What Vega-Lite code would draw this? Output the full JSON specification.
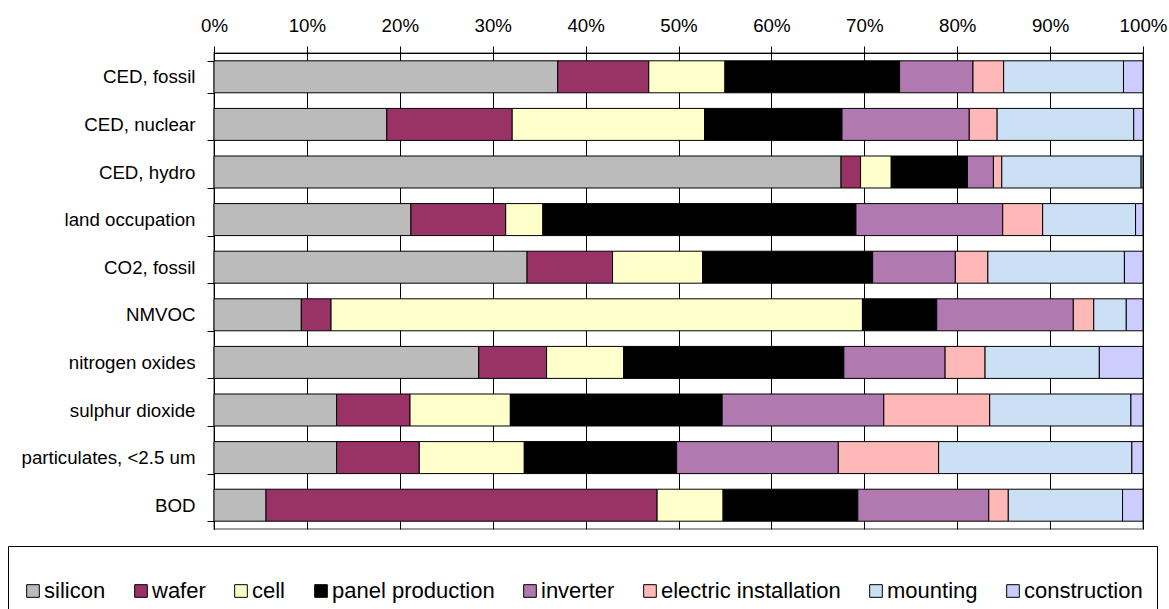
{
  "$schema": "https://vega.github.io/schema/vega-lite/v6.json",
  "width": 929,
  "height": 476,
  "autosize": {"type": "none"},
  "padding": {"left": 214, "top": 53, "right": 26, "bottom": 80},
  "background": "white",
  "config": {
    "font": "Liberation Sans",
    "view": {"stroke": "#808080", "strokeWidth": 1.5},
    "axis": {"labelFont": "Liberation Sans", "labelColor": "black", "domainColor": "black", "tickColor": "black", "labelFontSize": 18.7, "title": null}
  },
  "data": {
    "values": [
      {"cat": "CED, fossil", "part": "silicon", "v": 37.0},
      {"cat": "CED, fossil", "part": "wafer", "v": 9.8},
      {"cat": "CED, fossil", "part": "cell", "v": 8.2},
      {"cat": "CED, fossil", "part": "panel production", "v": 18.8},
      {"cat": "CED, fossil", "part": "inverter", "v": 7.9},
      {"cat": "CED, fossil", "part": "electric installation", "v": 3.3},
      {"cat": "CED, fossil", "part": "mounting", "v": 12.9},
      {"cat": "CED, fossil", "part": "construction", "v": 2.1},
      {"cat": "CED, nuclear", "part": "silicon", "v": 18.6},
      {"cat": "CED, nuclear", "part": "wafer", "v": 13.5},
      {"cat": "CED, nuclear", "part": "cell", "v": 20.7},
      {"cat": "CED, nuclear", "part": "panel production", "v": 14.8},
      {"cat": "CED, nuclear", "part": "inverter", "v": 13.7},
      {"cat": "CED, nuclear", "part": "electric installation", "v": 3.0},
      {"cat": "CED, nuclear", "part": "mounting", "v": 14.7},
      {"cat": "CED, nuclear", "part": "construction", "v": 1.0},
      {"cat": "CED, hydro", "part": "silicon", "v": 67.5},
      {"cat": "CED, hydro", "part": "wafer", "v": 2.1},
      {"cat": "CED, hydro", "part": "cell", "v": 3.3},
      {"cat": "CED, hydro", "part": "panel production", "v": 8.2},
      {"cat": "CED, hydro", "part": "inverter", "v": 2.8},
      {"cat": "CED, hydro", "part": "electric installation", "v": 0.9},
      {"cat": "CED, hydro", "part": "mounting", "v": 15.0},
      {"cat": "CED, hydro", "part": "construction", "v": 0.2},
      {"cat": "land occupation", "part": "silicon", "v": 21.2},
      {"cat": "land occupation", "part": "wafer", "v": 10.2},
      {"cat": "land occupation", "part": "cell", "v": 4.0},
      {"cat": "land occupation", "part": "panel production", "v": 33.7},
      {"cat": "land occupation", "part": "inverter", "v": 15.8},
      {"cat": "land occupation", "part": "electric installation", "v": 4.3},
      {"cat": "land occupation", "part": "mounting", "v": 10.0},
      {"cat": "land occupation", "part": "construction", "v": 0.8},
      {"cat": "CO2, fossil", "part": "silicon", "v": 33.7},
      {"cat": "CO2, fossil", "part": "wafer", "v": 9.2},
      {"cat": "CO2, fossil", "part": "cell", "v": 9.7},
      {"cat": "CO2, fossil", "part": "panel production", "v": 18.3},
      {"cat": "CO2, fossil", "part": "inverter", "v": 8.9},
      {"cat": "CO2, fossil", "part": "electric installation", "v": 3.5},
      {"cat": "CO2, fossil", "part": "mounting", "v": 14.7},
      {"cat": "CO2, fossil", "part": "construction", "v": 2.0},
      {"cat": "NMVOC", "part": "silicon", "v": 9.4},
      {"cat": "NMVOC", "part": "wafer", "v": 3.2},
      {"cat": "NMVOC", "part": "cell", "v": 57.2},
      {"cat": "NMVOC", "part": "panel production", "v": 8.0},
      {"cat": "NMVOC", "part": "inverter", "v": 14.7},
      {"cat": "NMVOC", "part": "electric installation", "v": 2.2},
      {"cat": "NMVOC", "part": "mounting", "v": 3.5},
      {"cat": "NMVOC", "part": "construction", "v": 1.8},
      {"cat": "nitrogen oxides", "part": "silicon", "v": 28.5},
      {"cat": "nitrogen oxides", "part": "wafer", "v": 7.3},
      {"cat": "nitrogen oxides", "part": "cell", "v": 8.3},
      {"cat": "nitrogen oxides", "part": "panel production", "v": 23.7},
      {"cat": "nitrogen oxides", "part": "inverter", "v": 10.9},
      {"cat": "nitrogen oxides", "part": "electric installation", "v": 4.3},
      {"cat": "nitrogen oxides", "part": "mounting", "v": 12.3},
      {"cat": "nitrogen oxides", "part": "construction", "v": 4.7},
      {"cat": "sulphur dioxide", "part": "silicon", "v": 13.2},
      {"cat": "sulphur dioxide", "part": "wafer", "v": 7.9},
      {"cat": "sulphur dioxide", "part": "cell", "v": 10.8},
      {"cat": "sulphur dioxide", "part": "panel production", "v": 22.8},
      {"cat": "sulphur dioxide", "part": "inverter", "v": 17.4},
      {"cat": "sulphur dioxide", "part": "electric installation", "v": 11.4},
      {"cat": "sulphur dioxide", "part": "mounting", "v": 15.2},
      {"cat": "sulphur dioxide", "part": "construction", "v": 1.3},
      {"cat": "particulates, <2.5 um", "part": "silicon", "v": 13.2},
      {"cat": "particulates, <2.5 um", "part": "wafer", "v": 8.9},
      {"cat": "particulates, <2.5 um", "part": "cell", "v": 11.3},
      {"cat": "particulates, <2.5 um", "part": "panel production", "v": 16.4},
      {"cat": "particulates, <2.5 um", "part": "inverter", "v": 17.4},
      {"cat": "particulates, <2.5 um", "part": "electric installation", "v": 10.8},
      {"cat": "particulates, <2.5 um", "part": "mounting", "v": 20.8},
      {"cat": "particulates, <2.5 um", "part": "construction", "v": 1.2},
      {"cat": "BOD", "part": "silicon", "v": 5.6},
      {"cat": "BOD", "part": "wafer", "v": 42.1},
      {"cat": "BOD", "part": "cell", "v": 7.1},
      {"cat": "BOD", "part": "panel production", "v": 14.5},
      {"cat": "BOD", "part": "inverter", "v": 14.1},
      {"cat": "BOD", "part": "electric installation", "v": 2.1},
      {"cat": "BOD", "part": "mounting", "v": 12.3},
      {"cat": "BOD", "part": "construction", "v": 2.2}
    ]
  },
  "transform": [
    {"calculate": "indexof(['silicon','wafer','cell','panel production','inverter','electric installation','mounting','construction'], datum.part)", "as": "partOrder"}
  ],
  "mark": {"type": "bar", "stroke": "black", "strokeWidth": 1},
  "encoding": {
    "y": {
      "field": "cat",
      "type": "nominal",
      "sort": ["CED, fossil", "CED, nuclear", "CED, hydro", "land occupation", "CO2, fossil", "NMVOC", "nitrogen oxides", "sulphur dioxide", "particulates, <2.5 um", "BOD"],
      "scale": {"paddingInner": 0.328, "paddingOuter": 0.164},
      "axis": {"orient": "left", "tickBand": "extent", "tickSize": 7, "labelPadding": 12, "domainWidth": 1, "labelLimit": 0}
    },
    "x": {
      "field": "v",
      "type": "quantitative",
      "stack": "normalize",
      "scale": {"domain": [0, 1]},
      "axis": {"orient": "top", "format": ".0%", "values": [0, 0.1, 0.2, 0.3, 0.4, 0.5, 0.6, 0.7, 0.8, 0.9, 1], "tickSize": 7, "labelPadding": 11, "grid": true, "gridColor": "black", "gridWidth": 1, "gridOpacity": 1, "labelFlush": false}
    },
    "order": {"field": "partOrder", "type": "quantitative", "sort": "ascending"},
    "color": {
      "field": "part",
      "type": "nominal",
      "sort": ["silicon", "wafer", "cell", "panel production", "inverter", "electric installation", "mounting", "construction"],
      "scale": {
        "domain": ["silicon", "wafer", "cell", "panel production", "inverter", "electric installation", "mounting", "construction"],
        "range": ["#bbbbbb", "#993366", "#ffffcc", "#000000", "#b07ab0", "#ffb8b8", "#cce0f5", "#ccccff"]
      },
      "legend": {
        "orient": "none",
        "legendX": -206,
        "legendY": 493,
        "direction": "horizontal",
        "columns": 8,
        "title": " ",
        "titleFontSize": 12,
        "titlePadding": 8,
        "padding": 14,
        "strokeColor": "black",
        "fillColor": "white",
        "symbolType": "square",
        "symbolSize": 160,
        "symbolStrokeColor": "black",
        "symbolStrokeWidth": 1,
        "symbolOpacity": 1,
        "labelFont": "Liberation Sans",
        "labelFontSize": 22,
        "labelColor": "black",
        "labelOffset": 0,
        "labelLimit": 0,
        "columnPadding": 24
      }
    }
  }
}
